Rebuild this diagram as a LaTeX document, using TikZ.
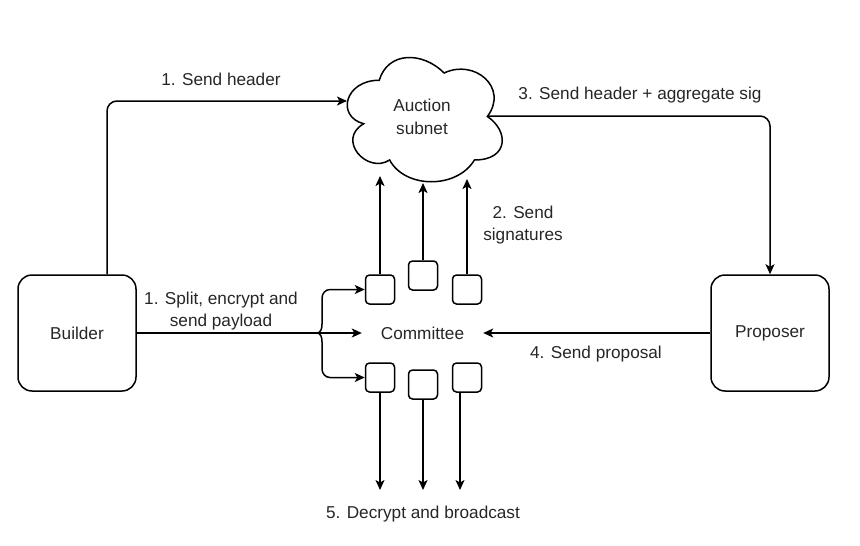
\documentclass[tikz,border=0pt]{standalone}
\usepackage{fontspec}
\setmainfont{Liberation Sans}
\usetikzlibrary{arrows.meta, positioning, calc}

\begin{document}
\begin{tikzpicture}[
  x=1pt, y=-1pt,
  every node/.style={font=\fontsize{17.2}{22.5}\selectfont, text=black!85},
  party/.style={draw, line width=1.5pt, rounded corners=14pt, minimum width=118pt, minimum height=116pt, align=center},
  member/.style={draw, line width=1.5pt, rounded corners=4pt, minimum width=29pt, minimum height=29pt, inner sep=0pt},
  arr/.style={-{Stealth[length=10pt, width=9pt, inset=2.5pt]}, line width=1.5pt}
]
  \useasboundingbox (0,0) rectangle (860,546);

  % parties
  \node[party] (builder) at (77,333) {Builder};
  \node[party] (proposer) at (770,333) {Proposer};

  % auction subnet (cloud)
  \draw[line width=1.5pt, shift={(336,44)}, x=173pt, y=-145pt]
    (0.25,0.25) .. controls (0.05,0.25) and (0,0.5) .. (0.16,0.55)
    .. controls (0,0.66) and (0.18,0.9) .. (0.31,0.8)
    .. controls (0.4,1) and (0.7,1) .. (0.8,0.8)
    .. controls (1,0.8) and (1,0.6) .. (0.875,0.5)
    .. controls (1,0.3) and (0.8,0.1) .. (0.625,0.2)
    .. controls (0.5,0.05) and (0.3,0.05) .. (0.25,0.25) -- cycle;
  \node[align=center] (auction) at (422,117) {Auction\\subnet};
  \coordinate (cl-w) at (347,101);
  \coordinate (cl-e) at (488,116);
  \coordinate (cl-b1) at (380,176);
  \coordinate (cl-b2) at (423,183);
  \coordinate (cl-b3) at (467,179);

  % committee
  \node[minimum width=121pt, inner sep=0pt] (committee) at (422.5,333) {Committee};
  \node[member] (sq1) at (380,289.5) {};
  \node[member] (sq2) at (423,275.5) {};
  \node[member] (sq3) at (467,289.5) {};
  \node[member] (sq4) at (380,377.5) {};
  \node[member] (sq5) at (423,384.5) {};
  \node[member] (sq6) at (467,377.5) {};
  \coordinate (out1) at (380,490);
  \coordinate (out2) at (423,490);
  \coordinate (out3) at (460,490);

  % 1. header
  \draw[arr, rounded corners=10pt] ([xshift=30pt]builder.north) |- (cl-w);
  \node (hdr) at (221,79) {1. Send header};

  % 1. payload
  \coordinate (fork) at (317,333);
  \draw[arr] (builder.east) -- (committee.west);
  \draw[arr] (fork) to[out=0, in=-90] (322,324) -- (322,298) to[out=90, in=180] (330,289.5) -- (sq1.west);
  \draw[arr] (fork) to[out=0, in=90] (322,342) -- (322,369) to[out=-90, in=180] (330,377.5) -- (sq4.west);
  \node[align=center] (payload) at (221,311) {1. Split, encrypt and\\send payload};

  % 2. signatures
  \draw[arr] (sq1.north) -- (cl-b1);
  \draw[arr] (sq2.north) -- (cl-b2);
  \draw[arr] (sq3.north) -- (cl-b3);
  \node[align=center] (sigs) at (523,225) {2. Send\\signatures};

  % 3. header + sig
  \draw[arr, rounded corners=10pt] (cl-e) -| (proposer.north);
  \node (agg) at (640,95) {3. Send header + aggregate sig};

  % 4. proposal
  \draw[arr] (proposer.west) -- (committee.east);
  \node (prop) at (596,354) {4. Send proposal};

  % 5. decrypt
  \draw[arr] (sq4.south) -- (out1);
  \draw[arr] (sq5.south) -- (out2);
  \draw[arr] ([xshift=-7pt]sq6.south) -- (out3);
  \node (bcast) at (423,514) {5. Decrypt and broadcast};
\end{tikzpicture}
\end{document}
